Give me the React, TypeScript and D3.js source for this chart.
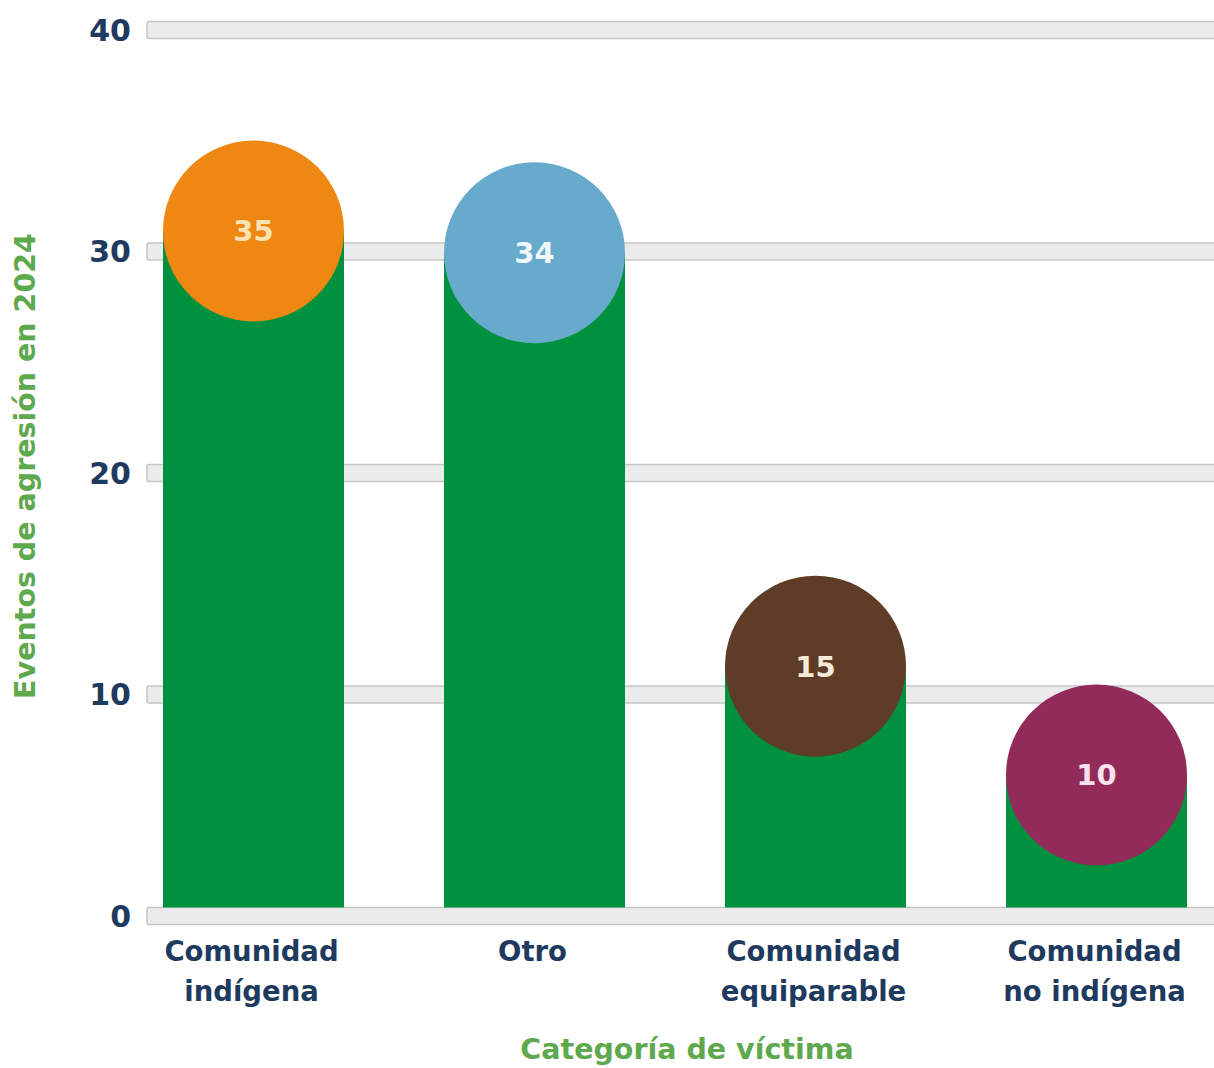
import React from "react";
import * as d3 from "d3";

const categories: string[][] = [
  ["Comunidad", "indígena"],
  ["Otro"],
  ["Comunidad", "equiparable"],
  ["Comunidad", "no indígena"],
];
const values: number[] = [35, 34, 15, 10];
const circleColors: string[] = ["#ee8813", "#68aacb", "#5e3c25", "#922a5a"];
const labelColors: string[] = ["#fbe3b4", "#eef7fb", "#f7ead8", "#f8e2ec"];
const yTicks: number[] = [0, 10, 20, 30, 40];

const W = 1214;
const H = 1068;

export default function App() {
  const y = d3.scaleLinear().domain([0, 40]).range([916, 30]);
  // bar tops as drawn in the original image (offset baseline)
  const yBar = d3.scaleLinear().domain([0, 40]).range([992.6, 992.6 - 40 * 21.76]);
  const x = d3
    .scalePoint<number>()
    .domain(values.map((_, i) => i))
    .range([253.5, 1096.5]);
  const barW = 181;
  const r = 90.5;
  const navy = "#1e3a5f";
  const green = "#5ea84e";
  const font = "'DejaVu Sans', sans-serif";

  return (
    <svg
      width={W}
      height={H}
      style={{ position: "absolute", left: 0, top: 0, background: "#fff" }}
    >
      <rect width={W} height={H} fill="#fff" />
      {yTicks.map((t) => (
        <g key={t}>
          <rect
            x={147}
            y={y(t) - 8.5}
            width={W - 147 + 10}
            height={17}
            rx={2}
            fill="#ebebeb"
            stroke="#c6c6c6"
            strokeWidth={1.5}
          />
          <text
            x={131}
            y={y(t)}
            dy="0.36em"
            textAnchor="end"
            fontFamily={font}
            fontWeight={700}
            fontSize={30}
            fill={navy}
          >
            {t}
          </text>
        </g>
      ))}
      {values.map((v, i) => {
        const cx = x(i)!;
        const top = yBar(v);
        return (
          <g key={i}>
            <rect
              x={cx - barW / 2}
              y={top}
              width={barW}
              height={y(0) - 8.5 - top}
              fill="#00913f"
            />
            <circle cx={cx} cy={top} r={r} fill={circleColors[i]} />
            <text
              x={cx}
              y={top}
              dy="0.36em"
              textAnchor="middle"
              fontFamily={font}
              fontWeight={700}
              fontSize={29}
              fill={labelColors[i]}
            >
              {v}
            </text>
            {categories[i].map((line, j) => (
              <text
                key={j}
                x={cx - 2}
                y={961 + j * 40}
                textAnchor="middle"
                fontFamily={font}
                fontWeight={700}
                fontSize={27.5}
                fill={navy}
              >
                {line}
              </text>
            ))}
          </g>
        );
      })}
      <text
        transform={`translate(35,466) rotate(-90)`}
        textAnchor="middle"
        fontFamily={font}
        fontWeight={700}
        fontSize={28.5}
        fill={green}
      >
        Eventos de agresión en 2024
      </text>
      <text
        x={687}
        y={1059}
        textAnchor="middle"
        fontFamily={font}
        fontWeight={700}
        fontSize={28.5}
        fill={green}
      >
        Categoría de víctima
      </text>
    </svg>
  );
}
